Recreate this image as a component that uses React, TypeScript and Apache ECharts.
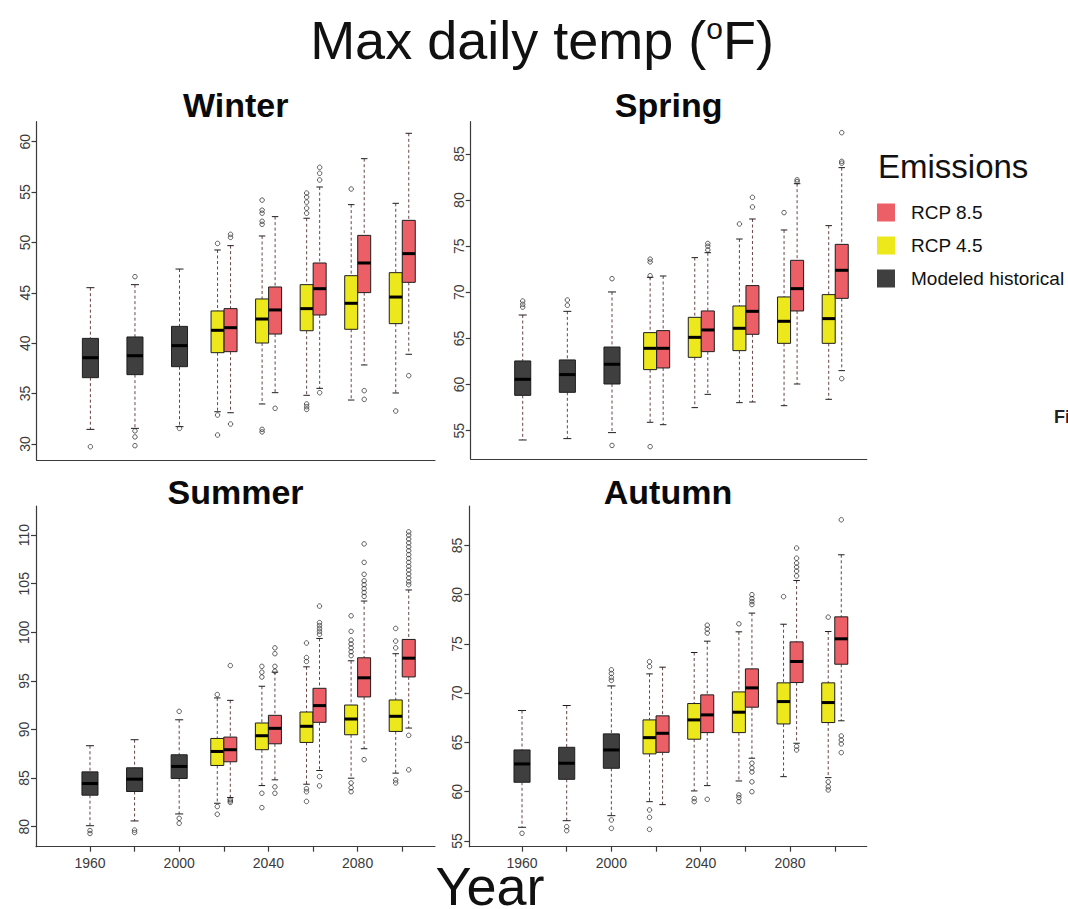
import React, { useEffect, useRef } from 'react';
import * as echarts from 'echarts';

// ---------- categories / ticks ----------
const HIST_YEARS = [1960, 1980, 2000];
const PROJ_YEARS = [2020, 2040, 2060, 2080, 2100];
const X_TICKS = [1960, 1980, 2000, 2020, 2040, 2060, 2080, 2100];
const X_LABELS = [1960, 2000, 2040, 2080];
const PANEL_TITLES = ['Winter', 'Spring', 'Summer', 'Autumn'];
const WINTER_TICKS = [30, 35, 40, 45, 50, 55, 60];
const SPRING_TICKS = [55, 60, 65, 70, 75, 80, 85];
const SUMMER_TICKS = [80, 85, 90, 95, 100, 105, 110];
const AUTUMN_TICKS = [55, 60, 65, 70, 75, 80, 85];
const SERIES_NAMES = ['Modeled historical', 'RCP 4.5', 'RCP 8.5'];
const LEGEND_ORDER = ['RCP 8.5', 'RCP 4.5', 'Modeled historical'];

// ---------- box stats: [lower whisker, Q1, median, Q3, upper whisker] ----------
const WINTER_HIST = [
  [31.45, 36.58, 38.56, 40.48, 45.51],
  [31.55, 36.88, 38.76, 40.62, 45.81],
  [31.72, 37.67, 39.76, 41.67, 47.36],
];
const WINTER_RCP45 = [
  [33.2, 39.06, 41.28, 43.2, 49.25],
  [33.97, 40.02, 42.4, 44.39, 50.64],
  [34.83, 41.24, 43.43, 45.81, 52.4],
  [34.36, 41.38, 43.96, 46.7, 53.75],
  [35.06, 41.94, 44.58, 47.0, 53.88],
];
const WINTER_RCP85 = [
  [33.1, 39.16, 41.54, 43.43, 49.68],
  [35.09, 40.91, 43.3, 45.58, 52.56],
  [35.52, 42.8, 45.41, 47.96, 55.5],
  [37.84, 45.02, 47.96, 50.7, 58.31],
  [38.9, 46.04, 48.89, 52.19, 60.83],
];
const WINTER_HIST_OUT = [[29.73], [46.6, 31.3, 30.7, 29.83], [31.55]];
const WINTER_RCP45_OUT = [
  [49.9, 32.87, 30.89],
  [54.2, 53.2, 52.9, 52.1, 51.8, 31.45, 31.2],
  [54.9, 54.5, 54.0, 53.4, 52.9, 33.97, 33.7, 33.43],
  [55.3],
  [33.27],
];
const WINTER_RCP85_OUT = [
  [50.8, 50.5, 31.98],
  [33.54],
  [57.45, 56.86, 56.2, 35.09],
  [35.29, 34.43],
  [36.78],
];

const SPRING_HIST = [
  [53.99, 58.83, 60.57, 62.56, 67.54],
  [54.14, 59.16, 61.08, 62.67, 67.94],
  [54.79, 60.06, 62.2, 64.07, 70.04],
];
const SPRING_RCP45 = [
  [55.91, 61.62, 63.93, 65.63, 71.63],
  [57.5, 62.95, 65.12, 67.29, 73.76],
  [58.04, 63.68, 66.1, 68.52, 75.78],
  [57.71, 64.47, 66.86, 69.5, 76.76],
  [58.4, 64.47, 67.15, 69.75, 77.23],
];
const SPRING_RCP85 = [
  [55.65, 61.8, 63.93, 65.85, 71.77],
  [58.94, 63.57, 65.92, 67.98, 74.3],
  [58.11, 65.45, 67.94, 70.73, 77.95],
  [60.06, 67.98, 70.4, 73.47, 81.78],
  [61.51, 69.35, 72.39, 75.2, 83.52],
];
const SPRING_HIST_OUT = [[69.06, 68.7, 68.4], [69.17, 68.6], [71.48, 53.4]];
const SPRING_RCP45_OUT = [[73.6, 73.3, 71.8, 53.27], [], [77.41], [78.64], []];
const SPRING_RCP85_OUT = [[], [75.3, 75.0, 74.6], [80.3, 79.25], [82.2, 82.0], [87.31, 84.2, 84.0, 60.64]];

const SUMMER_HIST = [
  [80.1, 83.24, 84.44, 85.64, 88.33],
  [80.59, 83.62, 84.89, 86.06, 88.95],
  [81.31, 84.96, 86.2, 87.4, 91.0],
];
const SUMMER_RCP45 = [
  [82.41, 86.3, 87.74, 89.08, 93.25],
  [84.23, 87.92, 89.36, 90.67, 94.45],
  [84.37, 88.67, 90.33, 91.8, 96.45],
  [84.99, 89.46, 91.08, 92.52, 97.07],
  [85.51, 89.8, 91.36, 93.04, 97.8],
];
const SUMMER_RCP85 = [
  [83.0, 86.68, 87.92, 89.22, 93.0],
  [84.82, 88.53, 90.12, 91.46, 95.9],
  [85.78, 90.74, 92.46, 94.24, 99.37],
  [88.02, 93.35, 95.32, 97.38, 103.22],
  [90.15, 95.41, 97.34, 99.27, 104.36],
];
const SUMMER_HIST_OUT = [[79.6, 79.3], [79.65, 79.4], [91.87, 80.86, 80.35]];
const SUMMER_RCP45_OUT = [
  [93.6, 82.07, 81.28],
  [96.5, 95.9, 95.4, 83.44, 81.96],
  [98.9, 97.4, 97.0, 83.9, 83.6, 82.6],
  [101.7, 100.1, 99.2, 98.8, 98.4, 98.0, 97.6, 84.5, 84.0, 83.6],
  [100.4, 99.1, 98.4, 84.8, 84.5],
];
const SUMMER_RCP85_OUT = [
  [96.58, 82.8, 82.65, 82.5],
  [98.4, 97.8, 96.5, 96.0, 84.1, 83.44],
  [102.7, 101.0, 100.7, 100.4, 100.1, 99.8, 85.16, 84.2],
  [109.1, 107.2, 105.97, 105.3, 104.9, 104.5, 104.1, 103.7, 86.9],
  [110.34, 110.0, 109.6, 109.2, 108.8, 108.4, 108.0, 107.6, 107.2, 106.8, 106.4, 106.0, 105.6, 105.2, 104.9, 89.4, 85.85],
];

const AUTUMN_HIST = [
  [56.39, 60.96, 62.82, 64.24, 68.24],
  [57.06, 61.26, 62.89, 64.51, 68.75],
  [57.57, 62.38, 64.24, 65.87, 70.74],
];
const AUTUMN_RCP45 = [
  [58.99, 63.84, 65.49, 67.29, 71.96],
  [60.08, 65.33, 67.29, 68.95, 74.13],
  [61.09, 66.0, 68.07, 70.13, 76.23],
  [61.53, 66.88, 69.15, 71.05, 77.0],
  [61.43, 67.02, 69.05, 71.05, 76.26],
];
const AUTUMN_RCP85 = [
  [58.69, 64.0, 65.93, 67.7, 72.64],
  [60.62, 66.0, 67.8, 69.83, 75.28],
  [63.4, 68.58, 70.54, 72.47, 78.13],
  [64.92, 71.08, 73.22, 75.21, 81.44],
  [67.2, 72.94, 75.52, 77.75, 84.05],
];
const AUTUMN_HIST_OUT = [[55.78], [56.45, 56.05], [72.37, 72.0, 71.6, 71.3, 57.13, 56.28]];
const AUTUMN_RCP45_OUT = [
  [73.2, 72.7, 58.15, 57.4, 56.18],
  [59.3, 59.0],
  [77.04, 59.67, 59.4, 59.0],
  [79.8],
  [77.72, 61.0, 60.5, 60.18],
];
const AUTUMN_RCP85_OUT = [
  [],
  [76.9, 76.5, 76.1, 59.23],
  [80.0, 79.6, 79.3, 79.0, 62.9, 62.4, 62.0, 61.0, 60.0],
  [84.73, 83.7, 83.2, 82.8, 82.4, 81.9, 64.6, 64.24],
  [87.6, 65.66, 65.25, 64.85, 63.97],
];

// ---------- panel layout / style ----------
const FONT = "'Liberation Sans', Arial, sans-serif";
const COLORS = ['#3f3f3f', '#ece81c', '#ec5f66'];
const GROUP_OFFSET = [0, -2.92, 2.92];
const GROUP_WIDTH = [7.2, 5.83, 5.83];
const WHISKER_COLOR = '#6a4444';
const AXIS_COLOR = '#3a3a3a';

const PANELS = [
  { title: PANEL_TITLES[0], grid: { left: 36.5, top: 121.7, width: 398.5, height: 338.3 }, x: [1935.8, 2114.7], y: [28.41, 61.98], ticks: WINTER_TICKS, bottom: false,
    boxes: [WINTER_HIST, WINTER_RCP45, WINTER_RCP85], outs: [WINTER_HIST_OUT, WINTER_RCP45_OUT, WINTER_RCP85_OUT], titleY: 105 },
  { title: PANEL_TITLES[1], grid: { left: 470.7, top: 121.7, width: 396, height: 337.3 }, x: [1936.7, 2114.1], y: [51.93, 88.5], ticks: SPRING_TICKS, bottom: false,
    boxes: [SPRING_HIST, SPRING_RCP45, SPRING_RCP85], outs: [SPRING_HIST_OUT, SPRING_RCP45_OUT, SPRING_RCP85_OUT], titleY: 105 },
  { title: PANEL_TITLES[2], grid: { left: 36, top: 506, width: 399, height: 340.7 }, x: [1935.8, 2114.7], y: [77.94, 113.0], ticks: SUMMER_TICKS, bottom: true,
    boxes: [SUMMER_HIST, SUMMER_RCP45, SUMMER_RCP85], outs: [SUMMER_HIST_OUT, SUMMER_RCP45_OUT, SUMMER_RCP85_OUT], titleY: 491.5 },
  { title: PANEL_TITLES[3], grid: { left: 469.3, top: 506, width: 397.4, height: 340.7 }, x: [1936.4, 2114.3], y: [54.42, 89.0], ticks: AUTUMN_TICKS, bottom: true,
    boxes: [AUTUMN_HIST, AUTUMN_RCP45, AUTUMN_RCP85], outs: [AUTUMN_HIST_OUT, AUTUMN_RCP45_OUT, AUTUMN_RCP85_OUT], titleY: 492 },
];

function makeRender(offset: number, width: number) {
  return (params: any, api: any) => {
    const x = api.value(0) + offset;
    const low = api.coord([x, api.value(1)]);
    const q1 = api.coord([x, api.value(2)]);
    const med = api.coord([x, api.value(3)]);
    const q3 = api.coord([x, api.value(4)]);
    const high = api.coord([x, api.value(5)]);
    const w = api.size([width, 0])[0];
    const cx = low[0];
    const half = w / 2;
    const cap = w / 4;
    const dash = { stroke: WHISKER_COLOR, lineWidth: 1, lineDash: [3, 2.5] };
    const solid = { stroke: '#1e1e1e', lineWidth: 1 };
    return {
      type: 'group',
      children: [
        { type: 'line', shape: { x1: cx, y1: high[1], x2: cx, y2: q3[1] }, style: dash },
        { type: 'line', shape: { x1: cx, y1: q1[1], x2: cx, y2: low[1] }, style: dash },
        { type: 'line', shape: { x1: cx - cap, y1: high[1], x2: cx + cap, y2: high[1] }, style: solid },
        { type: 'line', shape: { x1: cx - cap, y1: low[1], x2: cx + cap, y2: low[1] }, style: solid },
        { type: 'rect', shape: { x: cx - half, y: q3[1], width: w, height: q1[1] - q3[1] }, style: { fill: api.visual('color'), stroke: '#1e1e1e', lineWidth: 1 } },
        { type: 'line', shape: { x1: cx - half, y1: med[1], x2: cx + half, y2: med[1] }, style: { stroke: '#000', lineWidth: 3 } },
      ],
    };
  };
}

function buildOption() {
  const grids: any[] = [];
  const xAxes: any[] = [];
  const yAxes: any[] = [];
  const series: any[] = [];
  const graphics: any[] = [];

  PANELS.forEach((p, i) => {
    grids.push({ ...p.grid });
    xAxes.push({
      type: 'value', gridIndex: i, min: p.x[0], max: p.x[1],
      axisLine: { show: true, onZero: false, lineStyle: { color: AXIS_COLOR, width: 1.2 } },
      splitLine: { show: false },
      axisTick: { show: p.bottom, length: 5, customValues: X_TICKS, lineStyle: { color: AXIS_COLOR, width: 1.2 } },
      axisLabel: { show: p.bottom, customValues: X_LABELS, formatter: (v: number) => String(v), fontSize: 14, fontFamily: FONT, color: '#3a3a3a', margin: 9 },
    });
    yAxes.push({
      type: 'value', gridIndex: i, min: p.y[0], max: p.y[1],
      axisLine: { show: true, onZero: false, lineStyle: { color: AXIS_COLOR, width: 1.2 } },
      splitLine: { show: false },
      axisTick: { show: true, length: 5, customValues: p.ticks, lineStyle: { color: AXIS_COLOR, width: 1.2 } },
      axisLabel: { show: true, customValues: p.ticks, rotate: 90, formatter: (v: number) => String(v), fontSize: 14, fontFamily: FONT, color: '#3a3a3a', margin: 5 },
    });
    [0, 1, 2].forEach((g) => {
      const years = g === 0 ? HIST_YEARS : PROJ_YEARS;
      const boxData = p.boxes[g].map((b, k) => [years[k], ...b]);
      series.push({
        type: 'custom', name: SERIES_NAMES[g], xAxisIndex: i, yAxisIndex: i,
        itemStyle: { color: COLORS[g] },
        renderItem: makeRender(GROUP_OFFSET[g], GROUP_WIDTH[g]),
        encode: { x: 0, y: [1, 2, 3, 4, 5] },
        data: boxData, z: 2, silent: true,
      });
      const outData: number[][] = [];
      p.outs[g].forEach((arr, k) => arr.forEach((v) => outData.push([years[k] + GROUP_OFFSET[g], v])));
      series.push({
        type: 'scatter', name: 'outliers-' + i + '-' + g, xAxisIndex: i, yAxisIndex: i,
        symbol: 'circle', symbolSize: 4.5,
        itemStyle: { color: 'rgba(255,255,255,0)', borderColor: '#222', borderWidth: 0.9 },
        data: outData, z: 3, silent: true,
      });
    });
    graphics.push({
      type: 'text', x: p.grid.left + p.grid.width / 2, y: p.titleY,
      style: { text: p.title, fontSize: 34, fontWeight: 'bold', fontFamily: FONT, fill: '#0a0a0a', align: 'center', verticalAlign: 'middle' },
    });
  });

  graphics.push({
    type: 'text', x: 542, y: 40,
    style: {
      text: 'Max daily temp ({sup|o}F)', fontSize: 54, fontFamily: FONT, fill: '#111', align: 'center', verticalAlign: 'middle',
      rich: { sup: { fontSize: 30, fontFamily: FONT, fill: '#111', verticalAlign: 'top' } },
    },
  });
  graphics.push({
    type: 'text', x: 490, y: 886,
    style: { text: 'Year', fontSize: 54, lineHeight: 36, fontFamily: FONT, fill: '#111', align: 'center', verticalAlign: 'middle' },
  });
  graphics.push({
    type: 'text', x: 878, y: 166,
    style: { text: 'Emissions', fontSize: 33, fontFamily: FONT, fill: '#111', align: 'left', verticalAlign: 'middle' },
  });
  graphics.push({
    type: 'text', x: 1054, y: 417,
    style: { text: 'Fi', fontSize: 18, fontWeight: 'bold', fontFamily: FONT, fill: '#222', align: 'left', verticalAlign: 'middle' },
  });

  return {
    animation: false,
    backgroundColor: '#ffffff',
    grid: grids,
    xAxis: xAxes,
    yAxis: yAxes,
    series,
    graphic: graphics,
    legend: {
      data: LEGEND_ORDER, orient: 'vertical', left: 877, top: 203, padding: 0,
      itemWidth: 18, itemHeight: 18, itemGap: 14, icon: 'rect', selectedMode: false,
      itemStyle: { borderWidth: 0 },
      textStyle: { fontSize: 19, fontFamily: FONT, color: '#111', padding: [0, 0, 0, 11] },
    },
  };
}

export default function App() {
  const ref = useRef<HTMLDivElement>(null);
  useEffect(() => {
    if (!ref.current) return;
    const chart = echarts.init(ref.current, null, { renderer: 'svg' });
    chart.setOption(buildOption() as any);
    return () => chart.dispose();
  }, []);
  return <div ref={ref} style={{ position: 'absolute', left: 0, top: 0, width: 1068, height: 909 }} />;
}
